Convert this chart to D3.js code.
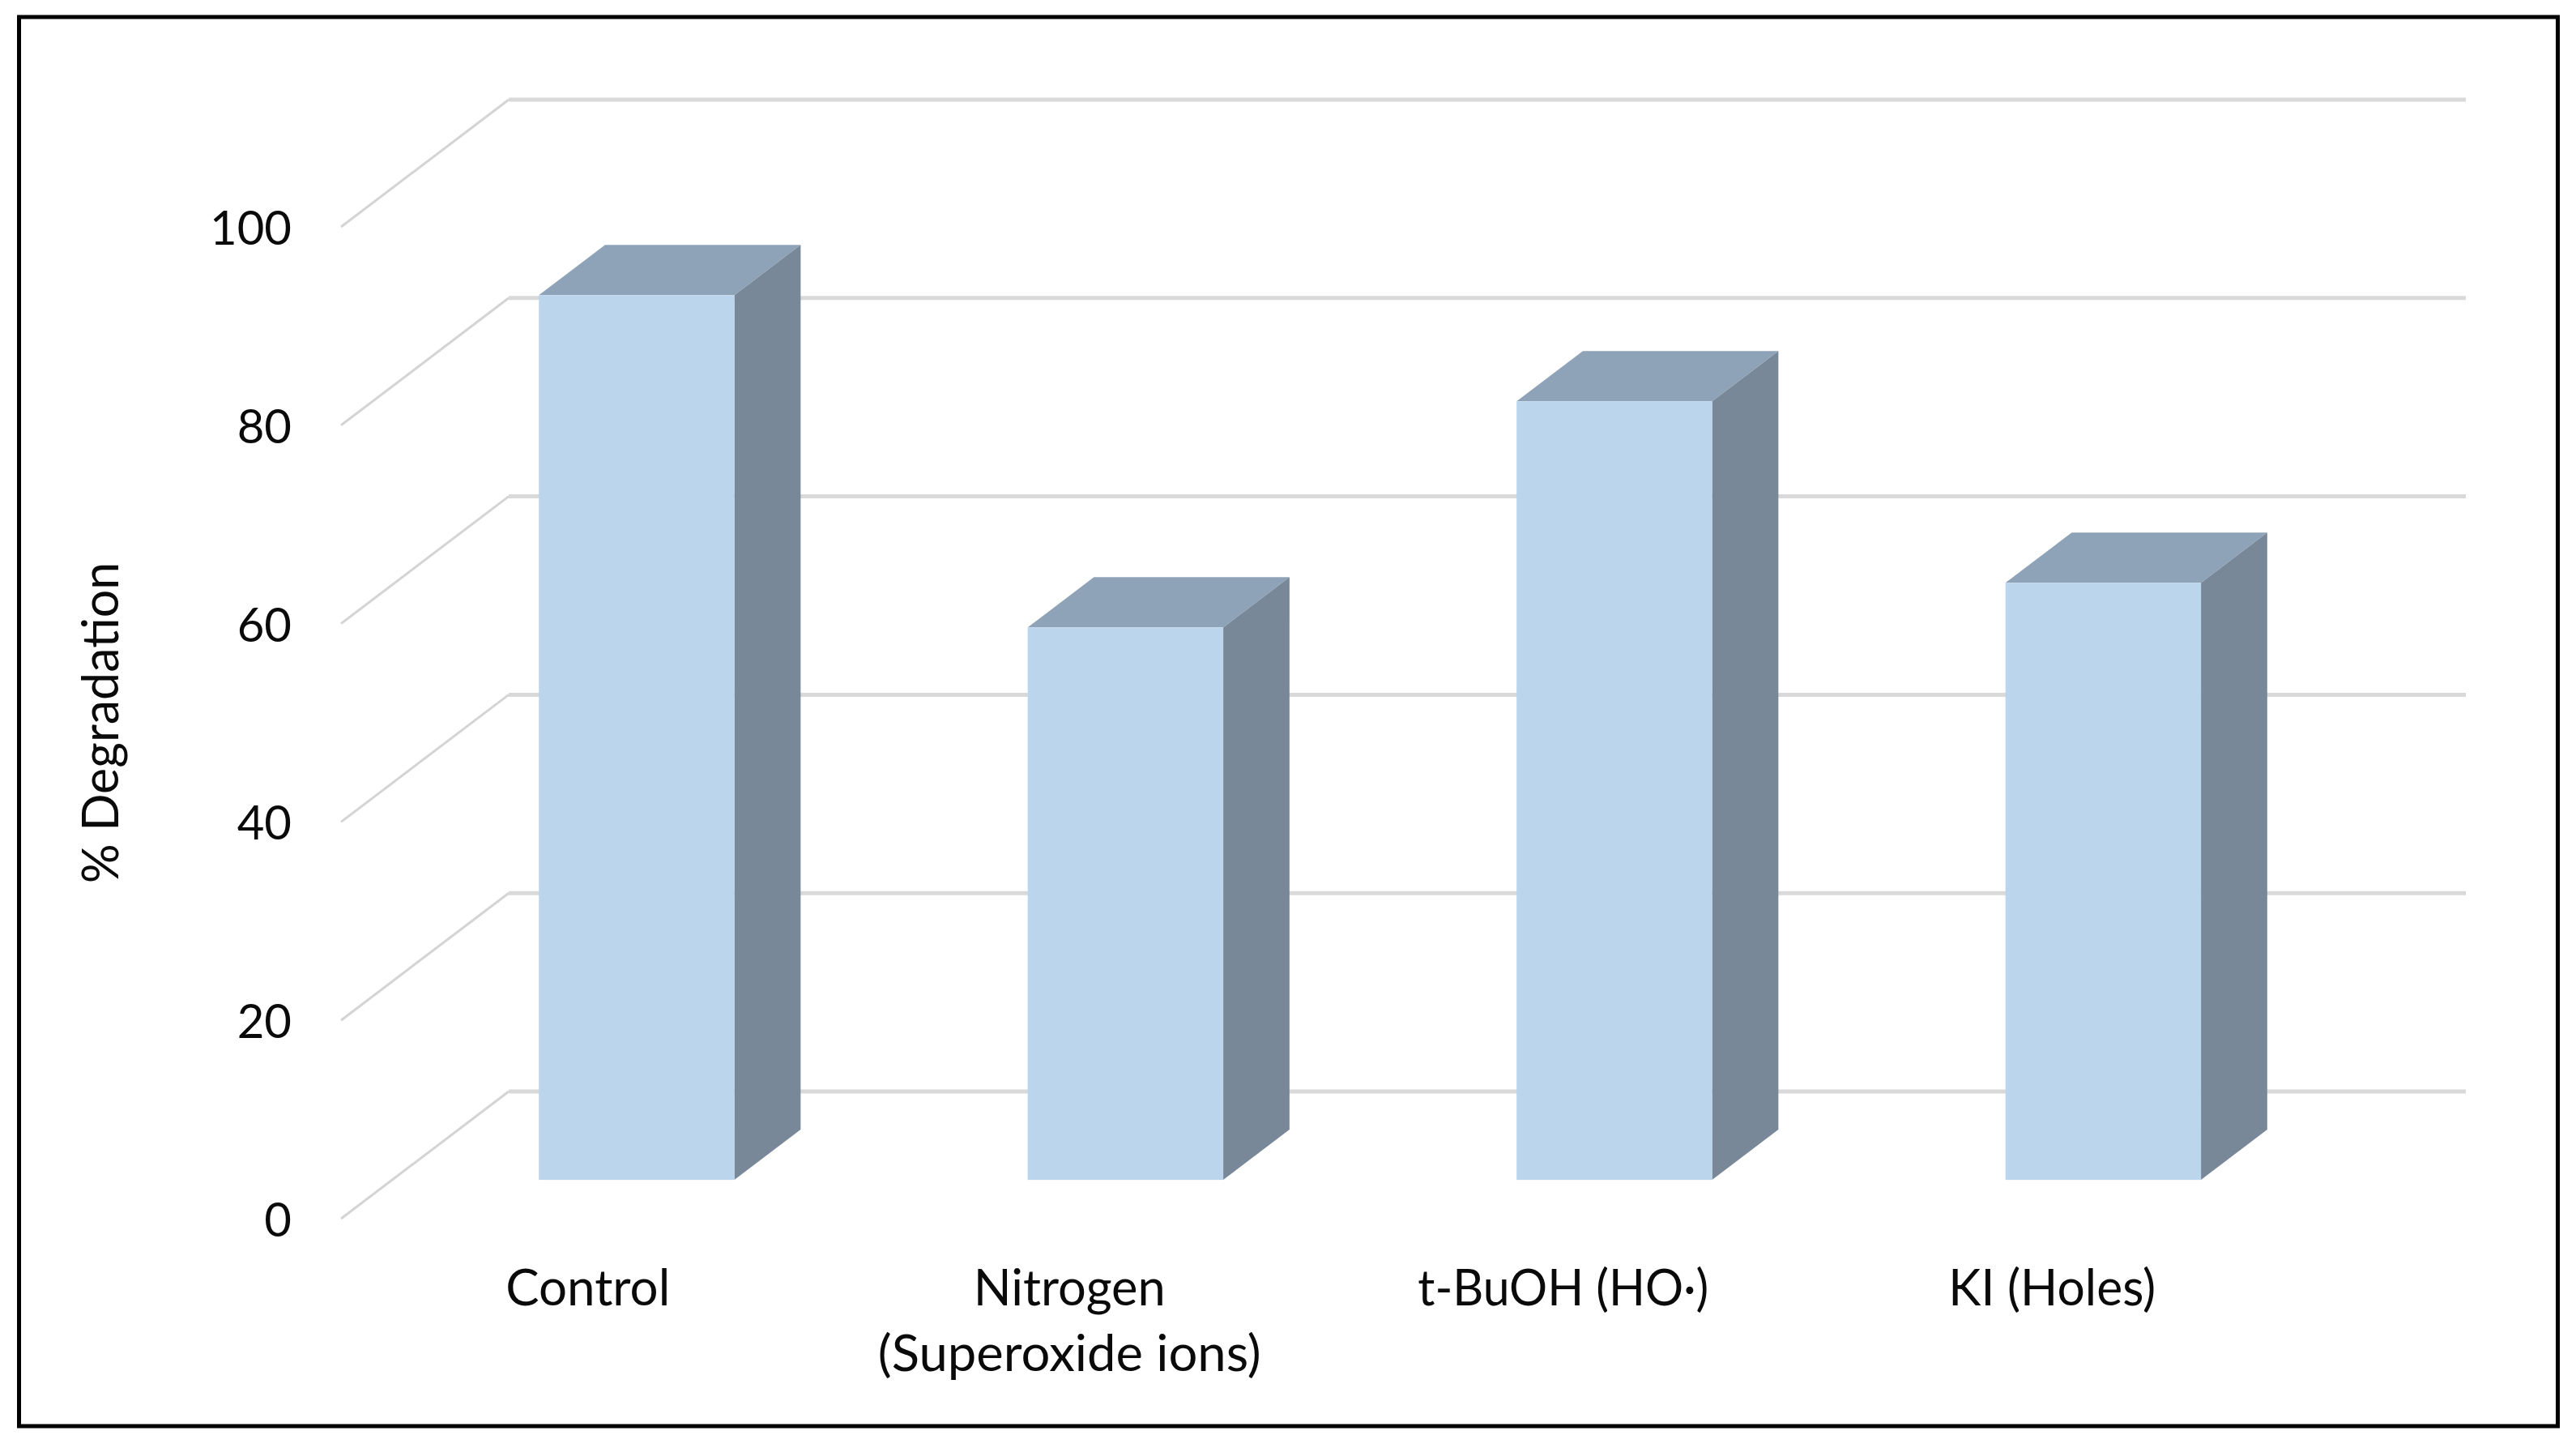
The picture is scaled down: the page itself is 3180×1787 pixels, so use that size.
<!DOCTYPE html>
<html><head><meta charset="utf-8">
<script src="https://cdn.jsdelivr.net/npm/d3@7"></script>
<style>html,body{margin:0;background:#fff}svg{display:block;filter:blur(0.7px)}text{font-family:Lato,"Open Sans",sans-serif;fill:#0a0a0a}</style>
</head><body><svg id="c" width="3180" height="1787"></svg>
<script>
const categories = [["Control"],["Nitrogen","(Superoxide ions)"],["t-BuOH (HO·)"],["KI (Holes)"]];
const values = [89.2, 55.7, 78.5, 60.2];
const yTicks = [0,20,40,60,80,100];
const yTitle = "% Degradation";

const svg = d3.select("#c");
svg.append("rect").attr("x",23.5).attr("y",21).attr("width",3134).attr("height",1739)
  .attr("fill","#fff").attr("stroke","#000").attr("stroke-width",5);

const depthX = 207, depthY = 157;
const gap = 0.305, barDepth = 0.395;
const gridRight = 3044;
const y = d3.scaleLinear().domain([0,100]).range([1504,280]);
const x = d3.scaleBand().domain(d3.range(categories.length)).range([421,2835]).paddingInner(0.6).paddingOuter(0.3);

const grid = svg.append("g");
yTicks.forEach(t=>{
  grid.append("path").attr("fill","none").attr("stroke","#d4d4d4").attr("stroke-width",3)
    .attr("d",d3.line()([[421,y(t)],[421+depthX,y(t)-depthY]]));
  grid.append("path").attr("fill","none").attr("stroke","#d9d9d9").attr("stroke-width",5)
    .attr("d",d3.line()([[421+depthX,y(t)-depthY],[gridRight,y(t)-depthY]]));
});

const bars = svg.append("g").selectAll("g").data(values).join("g");
const ox = depthX*gap, oy = depthY*gap, dx = depthX*barDepth, dy = depthY*barDepth;
bars.append("path").attr("fill","#8fa3b8").attr("d",(d,i)=>{
  const l=x(i)+ox, r=l+x.bandwidth(), t=y(d)-oy;
  return d3.line()([[l,t],[l+dx,t-dy],[r+dx,t-dy],[r,t]])+"Z";
});
bars.append("path").attr("fill","#798898").attr("d",(d,i)=>{
  const r=x(i)+ox+x.bandwidth(), t=y(d)-oy, b=y(0)-oy;
  return d3.line()([[r,t],[r+dx,t-dy],[r+dx,b-dy],[r,b]])+"Z";
});
bars.append("rect").attr("fill","#bad5ec")
  .attr("x",(d,i)=>x(i)+ox).attr("y",d=>y(d)-oy)
  .attr("width",x.bandwidth()).attr("height",d=>y(0)-y(d));

svg.append("g").selectAll("text").data(yTicks).join("text")
  .attr("x",360).attr("y",d=>y(d)+22).attr("text-anchor","end").attr("font-size",58).text(d=>d);

const labelShift = [3,-6,0,0];
const labelWidths = [[203],[237,473],[359],[256]];
const xl = svg.append("g").selectAll("text").data(categories.flatMap((d,i)=>d.map((s,j)=>({s,j,i})))).join("text")
  .attr("text-anchor","middle").attr("font-size",62)
  .attr("x",d=>x(d.i)+x.bandwidth()/2+labelShift[d.i]).attr("y",d=>1611+d.j*81)
  .attr("textLength",d=>labelWidths[d.i][d.j]).attr("lengthAdjust","spacingAndGlyphs")
  .text(d=>d.s);

svg.append("text").attr("transform","translate(146,892) rotate(-90)")
  .attr("text-anchor","middle").attr("font-size",61).text(yTitle);
</script></body></html>
